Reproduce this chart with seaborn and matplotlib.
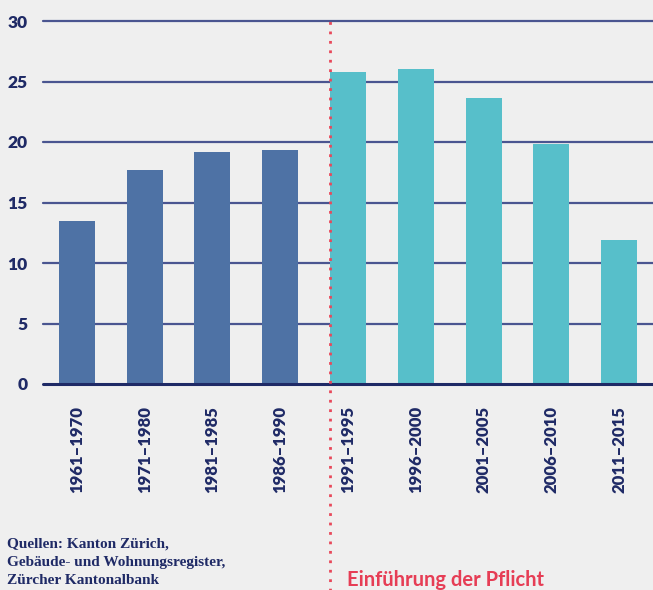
import pandas as pd
import numpy as np
import matplotlib
matplotlib.use("Agg")
import matplotlib.pyplot as plt
import seaborn as sns

# data
periods = ["1961–1970", "1971–1980", "1981–1985", "1986–1990", "1991–1995",
           "1996–2000", "2001–2005", "2006–2010", "2011–2015"]
values = [13.5, 17.7, 19.2, 19.3, 25.8, 26.0, 23.6, 19.8, 11.9]
phase = ["vor", "vor", "vor", "vor", "nach", "nach", "nach", "nach", "nach"]
y_ticks = [0, 5, 10, 15, 20, 25, 30]

df = pd.DataFrame({"periode": periods, "wert": values, "phase": phase})

bg = "#efefef"
navy = "#1f2a66"
sns.set_theme(style="white")
plt.rcParams["font.family"] = ["Lato", "DejaVu Sans"]

fig = plt.figure(figsize=(6.53, 5.9), dpi=100, facecolor=bg)
ax = fig.add_axes([43 / 653, 206 / 590, 610 / 653, 363 / 590])
ax.set_facecolor(bg)

# gridlines behind the bars
for t in y_ticks[1:]:
    ax.axhline(t, color="#4a5590", lw=1.6, zorder=0, clip_on=False)

sns.barplot(data=df, x="periode", y="wert", hue="phase",
            palette={"vor": "#4e72a5", "nach": "#57bfca"},
            width=0.53, dodge=False, legend=False, saturation=1, ax=ax, zorder=2,
            linewidth=0, edgecolor="none")

# zero line in front
ax.axhline(0, color=navy, lw=2.2, zorder=3, clip_on=False)

ax.set_xlim(-0.5, 8.5)
ax.set_ylim(0, 30)
ax.set_yticks(y_ticks)
ax.set_yticklabels([str(t) for t in y_ticks], fontsize=12.5, fontweight="heavy", color=navy)
ax.tick_params(axis="y", length=0, pad=11)
ax.tick_params(axis="x", length=0, pad=16)
ax.set_xticks(range(len(periods)))
ax.set_xticklabels(periods, rotation=90, fontsize=12, fontweight="heavy", color=navy, va="top")
ax.set_xlabel("")
ax.set_ylabel("")
for s in ax.spines.values():
    s.set_visible(False)

# dotted marker where the obligation started
ax.axvline(3.735, ymin=-0.6, ymax=1, color="#e8485a", lw=2,
           linestyle=(0, (1, 2.4)), clip_on=False, zorder=4)

fig.text(347 / 653, 4 / 590, "Einführung der Pflicht", color="#e63d55",
         fontsize=14.5, fontweight="bold", va="baseline", ha="left")

fig.text(7 / 653, 6 / 590,
         "Quellen: Kanton Zürich,\nGebäude- und Wohnungsregister,\nZürcher Kantonalbank",
         family=["Liberation Serif", "DejaVu Serif"], fontweight="bold", fontsize=11,
         color=navy, va="baseline", ha="left", linespacing=1.5)

fig.savefig("out.png", dpi=100, facecolor=bg)
